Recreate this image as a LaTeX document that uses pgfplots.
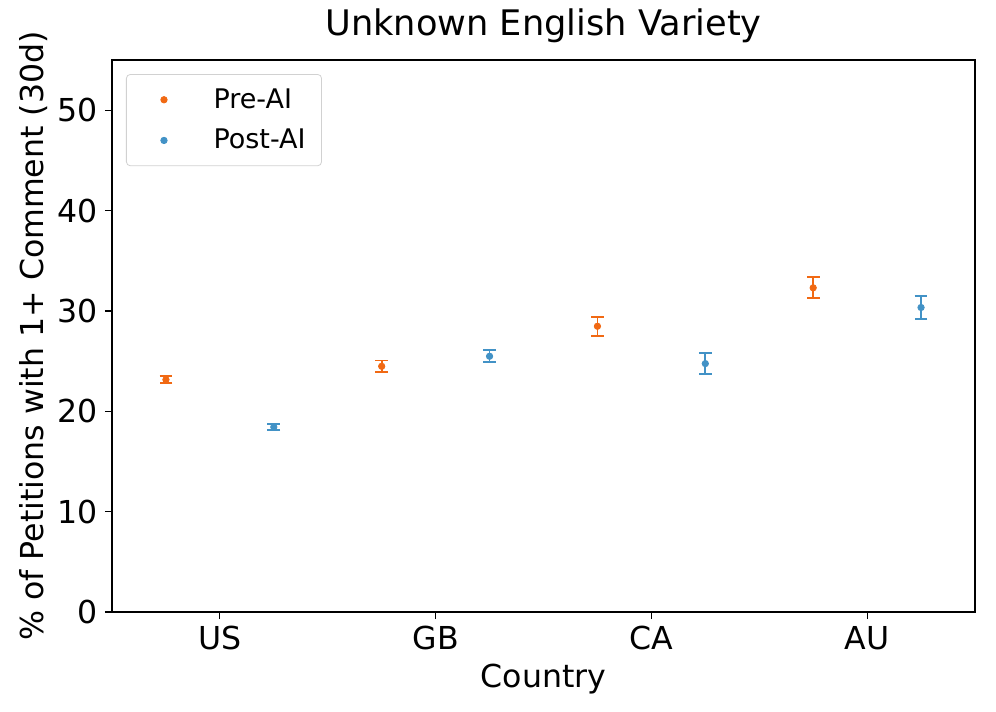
\documentclass[border=0pt]{standalone}
\usepackage{pgfplots}
\pgfplotsset{compat=1.18}
\usepackage{fontspec}
\setmainfont{DejaVu Sans}
\definecolor{preai}{HTML}{F16913}
\definecolor{postai}{HTML}{4292C6}
\begin{document}
\begin{tikzpicture}
\begin{axis}[
  scale only axis,
  width=431.5pt, height=276pt,
  xmin=-0.5, xmax=3.5,
  ymin=0, ymax=55,
  xtick={0,1,2,3},
  xticklabels={US,GB,CA,AU},
  ytick={0,10,20,30,40,50},
  tick align=outside,
  major tick length=3.5pt,
  tick style={black, line width=0.6pt},
  xtick pos=bottom, ytick pos=left,
  axis line style={line width=0.6pt},
  tick label style={font=\fontsize{15.8}{19}\selectfont},
  /pgf/number format/assume math mode=true,
  label style={font=\fontsize{15.8}{19}\selectfont},
  ylabel style={xshift=0pt, yshift=-2pt},
  title style={font=\fontsize{17.6}{21}\selectfont, at={(0.5,1)}, anchor=base, yshift=6.3pt},
  title={Unknown English Variety},
  xlabel={Country},
  ylabel={\% of Petitions with 1+ Comment (30d)},
  legend style={at={(0.0162,0.9746)}, anchor=north west, draw=black!18, rounded corners=2pt,
    font=\fontsize{13.5}{16}\selectfont, row sep=5pt, inner xsep=6pt, inner ysep=5pt},
  legend cell align=left,
  legend image code/.code={\path[draw=none, fill=none] (0,0) -- (1.25cm,0); \draw[#1] plot coordinates {(0.45cm,0cm)};},
  clip=false,
]
\coordinate (ll) at (rel axis cs:0,0);
\addplot+[only marks, mark=*, mark size=1.6pt, color=preai, mark options={fill=preai, draw=preai},
  error bars/.cd, y dir=both, y explicit, error bar style={line width=0.9pt, color=preai},
  error mark options={rotate=90, mark size=3.2pt, line width=0.9pt, color=preai}]
  coordinates {
  (-0.25,23.15) +- (0,0.33)
  (0.75,24.48) +- (0,0.58)
  (1.75,28.47) +- (0,0.96)
  (2.75,32.3) +- (0,1.05)
  };
\addlegendentry{Pre-AI}
\addplot+[only marks, mark=*, mark size=1.6pt, color=postai, mark options={fill=postai, draw=postai},
  error bars/.cd, y dir=both, y explicit, error bar style={line width=0.9pt, color=postai},
  error mark options={rotate=90, mark size=3.2pt, line width=0.9pt, color=postai}]
  coordinates {
  (0.25,18.43) +- (0,0.3)
  (1.25,25.48) +- (0,0.6)
  (2.25,24.75) +- (0,1.03)
  (3.25,30.34) +- (0,1.18)
  };
\addlegendentry{Post-AI}
\end{axis}
\pgfresetboundingbox
\path ([shift={(-56pt,-50pt)}]ll) rectangle ([shift={(442pt,306pt)}]ll);
\end{tikzpicture}
\end{document}
